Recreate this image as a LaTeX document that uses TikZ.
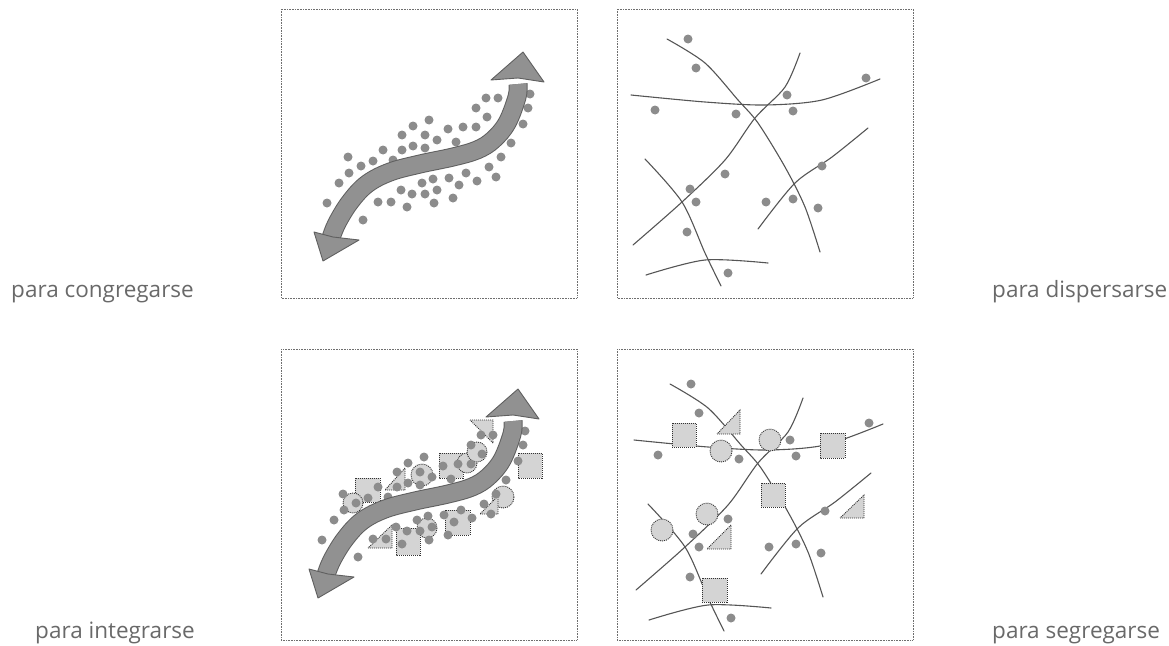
\documentclass[tikz,border=0pt]{standalone}
\usepackage{fontspec}
\setmainfont{Open Sans}
\definecolor{dotc}{RGB}{140,140,140}
\definecolor{arrfill}{RGB}{145,145,145}
\definecolor{arredge}{RGB}{95,95,95}
\definecolor{linec}{RGB}{85,85,85}
\definecolor{shapec}{RGB}{212,212,212}
\definecolor{framec}{RGB}{110,110,110}
\definecolor{labelc}{RGB}{105,105,105}
\tikzset{
  frame/.style={draw=framec, line width=0.8, dash pattern=on 0.8 off 0.8},
  lbl/.style={text=labelc, font=\fontsize{22.5}{26}\selectfont, inner sep=0},
  pdot/.style={fill=dotc},
  lshape/.style={fill=shapec, draw=black!80, line width=0.9, dash pattern=on 1 off 1},
  route/.style={draw=linec, line width=1.1, line cap=round},
}
\newcommand\leftdots{%
  \foreach \px/\py in {348/157,349/173,339/183,327/203,363/220,361/166,373/161,383/150,393/160,402/135,402/150,413/126,413/146,425/135,425/148,429/120,437/140,448/129,456/142,463/127,476/127,476/108,487/117,486/98,498/98,530/94,528/108,523/124,511/143,501/157,489/167,496/177,477/181,466/173,459/185,449/178,453/198,433/179,437/190,434/203,422/183,425/194,412/194,407/207,401/190,391/202,378/202}
  {\fill[pdot] (\px,\py) circle[radius=4.5];}}
\newcommand\bigarrow{%
  \draw[arredge, line width=19] plot[smooth, tension=0.6] coordinates {(518,84) (517,97) (507,123) (493,140) (477,150) (453,157) (420,164) (390,172) (367,184) (350,202) (337,223) (331,238)};
  \draw[arrfill, line width=17] plot[smooth, tension=0.6] coordinates {(518,84) (517,97) (507,123) (493,140) (477,150) (453,157) (420,164) (390,172) (367,184) (350,202) (337,223) (331,238)};
  \filldraw[fill=arrfill, draw=arredge, line width=0.9, line join=round] (523,52) -- (544,82) -- (518,78) -- (491,80) -- cycle;
  \filldraw[fill=arrfill, draw=arredge, line width=0.9, line join=round] (323,261) -- (314,232) -- (333,237) -- (359,240) -- cycle;}
\newcommand\rightlines{%
  \draw[route] plot[smooth] coordinates {(667,39) (705,63) (738,100) (758,123) (785,167) (805,207) (820,252)};
  \draw[route] plot[smooth] coordinates {(631,95) (705,102) (765,105) (822,100) (880,79)};
  \draw[route] plot[smooth] coordinates {(633,245) (682,202) (725,160) (755,118) (785,87) (800,53)};
  \draw[route] plot[smooth] coordinates {(645,159) (682,202) (705,253) (721,286)};
  \draw[route] plot[smooth] coordinates {(758,229) (795,183) (832,157) (868,128)};
  \draw[route] plot[smooth] coordinates {(646,275) (705,260) (768,263)};}
\newcommand\rightdots{%
  \foreach \px/\py in {688/39,696/68,655/110,736/114,787/95,793/111,866/78,725/174,690/189,696/202,687/232,728/273,766/202,793/199,818/208,822/166}
  {\fill[pdot] (\px,\py) circle[radius=4.5];}}
\begin{document}
\begin{tikzpicture}[x=1pt,y=-1pt]
\useasboundingbox (0,0) rectangle (1169,645);
% frames
\draw[frame] (281,9) rectangle (577,298);
\draw[frame] (617,9) rectangle (913,298);
\draw[frame] (281,349) rectangle (577,640);
\draw[frame] (617,349) rectangle (913,640);
% labels
\node[lbl, anchor=base east] (l1) at (194,297) {para congregarse};
\node[lbl, anchor=base east] (l2) at (195,638) {para integrarse};
\node[lbl, anchor=base west] (l3) at (992,297) {para dispersarse};
\node[lbl, anchor=base west] (l4) at (992,638) {para segregarse};
% top-left
\leftdots
\bigarrow
% top-right
\rightlines
\rightdots
% bottom-left
\draw[lshape] (355,478) rectangle (380,502);
\draw[lshape] (353,503) circle[radius=10];
\draw[lshape] (385,490) -- (405,490) -- (405,468) -- cycle;
\draw[lshape] (422,475) circle[radius=11];
\draw[lshape] (439,453) rectangle (463,478);
\draw[lshape] (467,463) circle[radius=10];
\draw[lshape] (477,452) circle[radius=10];
\draw[lshape] (470,420) -- (493,420) -- (493,443) -- cycle;
\draw[lshape] (518,453) rectangle (542,478);
\draw[lshape] (503,497) circle[radius=11];
\draw[lshape] (480,514) -- (498,514) -- (498,496) -- cycle;
\draw[lshape] (445,510) rectangle (470,535);
\draw[lshape] (427,528) circle[radius=10];
\draw[lshape] (396,528) rectangle (420,555);
\draw[lshape] (368,548) -- (392,548) -- (392,525) -- cycle;
\begin{scope}[shift={(-5,337)}]
\leftdots
\bigarrow
\end{scope}
% bottom-right
\begin{scope}[shift={(3,345)}]
\rightlines
\end{scope}
\draw[lshape] (672,423) rectangle (696,447);
\draw[lshape] (717,434) -- (740,434) -- (740,410) -- cycle;
\draw[lshape] (721,451) circle[radius=11];
\draw[lshape] (770,440) circle[radius=11];
\draw[lshape] (820,433) rectangle (845,458);
\draw[lshape] (761,483) rectangle (785,507);
\draw[lshape] (840,518) -- (864,518) -- (864,495) -- cycle;
\draw[lshape] (707,514) circle[radius=11];
\draw[lshape] (662,530) circle[radius=11];
\draw[lshape] (707,549) -- (731,549) -- (731,525) -- cycle;
\draw[lshape] (702,578) rectangle (727,602);
\begin{scope}[shift={(3,345)}]
\rightdots
\end{scope}
\end{tikzpicture}
\end{document}
